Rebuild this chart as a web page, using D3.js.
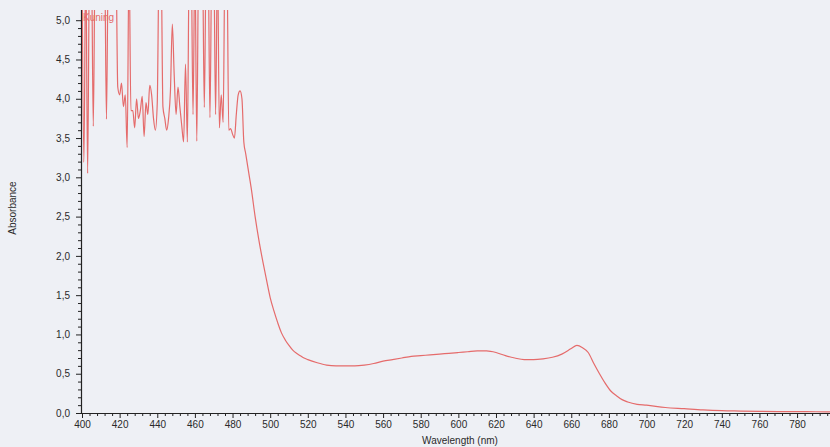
<!DOCTYPE html>
<html>
<head>
<meta charset="utf-8">
<script src="https://cdn.jsdelivr.net/npm/d3@7"></script>
<style>
  html, body { margin: 0; padding: 0; background: #eef0f5; }
  svg { display: block; }
  text { font-family: "Liberation Sans", Arial, sans-serif; }
</style>
</head>
<body>
<svg id="chart" width="830" height="447"></svg>
<script>
// ---- data ----
const wavelength = [
  400,401,402,403,404,405,406,407,408,409,410,411,412,413,414,415,416,417,418,419,
  420,421,422,423,424,425,426,427,428,429,430,431,432,433,434,435,436,437,438,439,
  440,441,442,443,444,445,446,447,448,449,450,451,452,453,454,455,456,457,458,459,
  460,461,462,463,464,465,466,467,468,469,470,471,472,473,474,475,476,477,478,479,
  480,481,482,483,484,485,486,487,488,489,
  490,492,494,496,498,500,502,504,506,508,510,512,514,516,518,520,
  525,530,535,540,545,550,555,560,565,570,575,580,585,590,595,600,605,610,615,620,
  625,630,635,640,645,650,655,660,663,666,669,672,675,678,681,684,687,690,695,700,
  710,720,730,740,750,760,770,780,790,800
];
const absorbance = [
  5.8,3.19,5.8,3.05,5.8,5.8,3.65,5.8,5.8,5.8,5.8,5.8,5.8,3.74,5.8,5.8,5.8,5.8,5.8,4.15,
  4.05,4.2,3.9,4.05,3.38,5.8,3.85,3.85,3.63,4.0,3.75,3.85,4.03,3.52,3.95,3.8,4.17,4.05,3.75,3.6,
  3.95,5.8,5.8,3.9,3.75,3.6,3.75,4.1,4.95,4.3,3.8,4.15,3.9,3.66,3.45,4.44,3.45,5.8,5.8,3.8,
  5.8,3.46,5.8,5.8,5.8,3.89,5.8,5.8,3.76,5.8,5.8,3.8,5.8,3.63,4.05,3.7,5.8,5.8,3.6,3.62,
  3.55,3.5,3.8,4.05,4.1,4.0,3.45,3.3,3.15,3.0,
  2.85,2.5,2.2,1.94,1.7,1.47,1.3,1.15,1.02,0.93,0.86,0.8,0.76,0.73,0.7,0.68,
  0.64,0.61,0.6,0.6,0.6,0.61,0.63,0.66,0.68,0.7,0.72,0.73,0.74,0.75,0.76,0.77,0.78,0.79,0.79,0.77,
  0.73,0.7,0.68,0.68,0.69,0.71,0.75,0.82,0.86,0.83,0.77,0.63,0.5,0.38,0.28,0.22,0.17,0.14,0.11,0.1,
  0.07,0.055,0.04,0.03,0.025,0.02,0.018,0.017,0.016,0.015
];
const seriesName = "Kuning";
const xTicks = [400,420,440,460,480,500,520,540,560,580,600,620,640,660,680,700,720,740,760,780];
const yTicks = [0,0.5,1,1.5,2,2.5,3,3.5,4,4.5,5];
const yTickLabels = ["0,0","0,5","1,0","1,5","2,0","2,5","3,0","3,5","4,0","4,5","5,0"];
const xTitle = "Wavelength (nm)";
const yTitle = "Absorbance";

// ---- layout ----
const svg = d3.select("#chart");
const W = 830, H = 447;
const padL = 81, padR = 830, padT = 10, padB = 413;

const x = d3.scaleLinear().domain([400, 797.5]).range([82, 830]);
const y = d3.scaleLinear().domain([0, 5.13]).range([padB, padT]);

svg.append("rect").attr("width", W).attr("height", H).attr("fill", "#eef0f5");

svg.append("defs").append("clipPath").attr("id", "plotclip")
  .append("rect").attr("x", padL + 1).attr("y", padT).attr("width", padR - padL).attr("height", padB - padT);

const axisColor = "#222";
const textColor = "#2a2a2a";

// minor ticks
const xMinor = d3.range(400, 800, 4).filter(v => !xTicks.includes(v));
svg.append("g").attr("transform", `translate(0,${padB})`)
  .call(d3.axisBottom(x).tickValues(xMinor).tickSize(3).tickSizeOuter(0).tickFormat(""))
  .call(g => g.select(".domain").remove())
  .call(g => g.selectAll("line").attr("stroke", axisColor));

const yMinor = d3.range(0, 51, 1).map(v => v / 10).filter(v => Math.round(v * 10) % 5 !== 0);
svg.append("g").attr("transform", `translate(${padL},0)`)
  .call(d3.axisLeft(y).tickValues(yMinor).tickSize(3).tickSizeOuter(0).tickFormat(""))
  .call(g => g.select(".domain").remove())
  .call(g => g.selectAll("line").attr("stroke", axisColor));

// major axes
const gx = svg.append("g").attr("transform", `translate(0,${padB})`)
  .call(d3.axisBottom(x).tickValues(xTicks).tickSize(5).tickSizeOuter(0).tickPadding(3).tickFormat(d3.format("d")));
gx.select(".domain").remove();
gx.selectAll("line").attr("stroke", axisColor);
gx.selectAll("text").attr("fill", textColor).style("font-size", "10px");

const gy = svg.append("g").attr("transform", `translate(${padL},0)`)
  .call(d3.axisLeft(y).tickValues(yTicks).tickSize(5).tickSizeOuter(0).tickPadding(6)
    .tickFormat((d, i) => yTickLabels[i]));
gy.select(".domain").remove();
gy.selectAll("line").attr("stroke", axisColor);
gy.selectAll("text").attr("fill", textColor).style("font-size", "10px");

// axis lines
svg.append("line").attr("x1", padL).attr("x2", padR).attr("y1", padB + 0.5).attr("y2", padB + 0.5)
  .attr("stroke", axisColor).attr("stroke-width", 1.2);
svg.append("line").attr("x1", padL + 0.5).attr("x2", padL + 0.5).attr("y1", padT).attr("y2", padB + 1)
  .attr("stroke", axisColor).attr("stroke-width", 1.2);

// series line
const pts = wavelength.map((w, i) => [w, absorbance[i]]);
const line = d3.line().x(d => x(d[0])).y(d => y(d[1])).curve(d3.curveMonotoneX);
svg.append("path").datum(pts)
  .attr("clip-path", "url(#plotclip)")
  .attr("d", line)
  .attr("fill", "none")
  .attr("stroke", "#e56b6b")
  .attr("stroke-width", 1.2)
  .attr("stroke-linejoin", "round");

// legend label
svg.append("text").attr("x", 83).attr("y", 21)
  .attr("fill", "#e56b6b").style("font-size", "10px").text(seriesName);

// titles
svg.append("text").attr("x", 460).attr("y", 444).attr("text-anchor", "middle")
  .attr("fill", textColor).style("font-size", "10px").text(xTitle);
svg.append("text").attr("transform", "translate(16,208) rotate(-90)").attr("text-anchor", "middle")
  .attr("fill", textColor).style("font-size", "10px").text(yTitle);
</script>
</body>
</html>
